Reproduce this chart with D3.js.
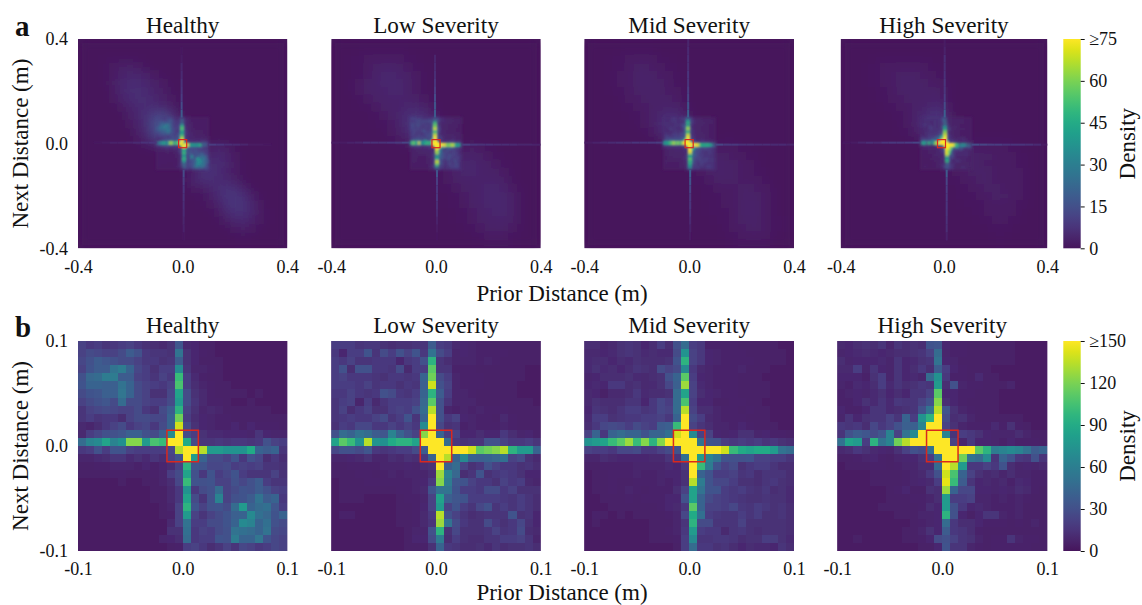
<!DOCTYPE html>
<html><head><meta charset="utf-8"><style>html,body{margin:0;background:#fff}svg{display:block}text{font-family:"Liberation Serif",serif;fill:#111}</style>
<script src="https://cdn.jsdelivr.net/npm/d3@7"></script></head><body><div id="c"></div><script>
const panelNames=["Healthy","Low Severity","Mid Severity","High Severity"];
const xTicksA=[-0.4,0,0.4],xTicksB=[-0.1,0,0.1];
const cbarTicksA=[0,15,30,45,60,75],cbarTicksB=[0,30,60,90,120,150];
const healthyFine=[
[30,25,28,22,25,28,30,25,20,18,15,20,42,15,14,8,8,6,6,6,6,5,5,6,6,6],
[30,35,32,30,30,35,45,38,25,22,22,20,60,20,14,10,8,6,6,6,6,6,6,5,5,5],
[32,38,45,42,38,35,35,30,24,25,20,22,45,20,14,8,8,8,6,6,6,6,6,6,6,6],
[30,40,45,45,60,65,50,32,28,20,28,28,75,22,12,12,10,8,6,6,6,6,5,5,6,6],
[38,52,55,65,65,45,45,30,28,22,30,25,105,28,16,10,8,8,6,6,6,6,6,6,6,6],
[40,50,50,48,48,60,50,35,30,28,25,30,110,28,18,12,10,8,8,6,6,6,6,6,6,6],
[35,40,42,48,48,62,50,35,30,20,20,32,90,35,20,15,10,8,8,8,8,6,8,6,6,6],
[30,35,38,42,35,55,35,35,30,28,28,35,85,35,22,15,10,10,8,6,6,8,6,6,6,6],
[22,30,32,35,32,30,30,35,25,20,35,45,100,30,20,12,15,12,8,8,8,8,8,8,6,6],
[22,28,22,25,25,18,30,35,35,32,32,50,120,28,18,14,12,10,10,8,8,8,8,8,8,8],
[15,12,18,25,30,35,25,30,32,25,35,50,140,35,20,14,12,10,10,14,8,14,10,10,10,8],
[15,28,32,38,38,42,48,48,38,35,48,75,150,35,28,20,16,16,14,14,14,12,22,14,12,12],
[55,70,75,90,70,78,125,125,85,110,105,150,150,95,35,22,22,25,22,25,25,22,25,38,30,28],
[25,28,38,28,40,40,30,28,28,28,28,32,135,150,150,135,85,85,80,80,80,95,50,45,50,22],
[12,12,16,18,22,22,16,20,16,22,18,30,40,150,85,50,35,35,30,40,25,38,32,18,25,18],
[8,8,10,10,12,12,12,10,14,10,14,18,30,100,42,40,32,32,35,28,30,28,30,22,22,20],
[8,8,8,8,10,10,8,8,8,10,12,28,35,90,38,25,40,28,32,40,28,22,22,22,30,20],
[6,6,6,6,6,8,6,6,8,8,12,18,32,105,40,38,40,30,30,38,32,38,45,28,22,22],
[6,6,6,6,6,6,6,6,6,8,8,15,25,80,25,35,38,55,30,35,40,38,45,38,30,28],
[6,6,6,6,6,6,6,6,6,8,8,15,25,90,35,22,38,70,30,38,40,45,60,45,50,25],
[6,6,6,6,6,6,6,6,6,6,8,12,30,100,40,30,38,40,35,55,85,50,55,58,42,28],
[6,6,6,6,6,6,6,6,6,6,8,10,30,85,30,22,30,35,40,48,50,75,58,52,40,50],
[6,6,6,6,6,5,5,5,6,6,6,15,30,60,28,28,35,35,40,50,75,70,50,58,38,35],
[6,6,5,5,5,5,5,5,6,6,6,20,20,58,25,30,28,35,38,60,58,55,50,60,35,32],
[5,5,5,5,5,5,5,5,5,6,12,14,18,55,25,28,28,40,38,65,50,50,62,40,32,30],
[5,5,5,5,5,5,5,5,5,6,6,8,10,28,30,25,18,22,30,22,32,30,25,28,32,30]];
const lowFine=[
[28,28,28,22,24,24,20,18,20,20,22,22,45,28,25,15,14,12,10,10,10,8,8,8,8,8],
[25,14,28,28,40,22,35,28,38,30,40,25,60,35,28,12,14,12,10,10,10,10,8,8,8,8],
[28,25,30,22,22,25,25,25,14,24,28,38,100,22,18,12,12,12,10,12,10,8,8,8,8,8],
[28,38,18,38,38,25,25,22,35,15,28,28,115,22,22,10,10,10,8,8,8,8,8,8,6,6],
[28,30,25,25,25,22,20,25,25,22,25,50,120,35,28,12,10,10,10,8,8,8,8,8,6,6],
[28,28,28,25,30,22,25,25,20,25,22,48,140,38,30,12,10,10,10,8,8,8,8,6,6,6],
[25,25,30,25,22,25,38,35,25,22,28,50,100,45,28,12,12,10,8,8,8,8,8,6,6,6],
[22,28,30,12,28,15,22,28,28,28,30,52,115,38,22,12,12,12,8,8,8,8,8,8,8,6],
[22,30,18,25,30,20,20,28,30,28,38,55,135,38,12,10,12,10,12,10,10,10,8,8,8,8],
[22,25,28,25,25,30,35,22,28,40,22,50,150,38,25,30,14,12,10,10,8,15,10,8,8,8],
[20,28,25,32,32,25,25,30,25,30,25,75,150,32,20,22,10,12,10,10,10,12,10,8,8,8],
[38,55,50,60,55,45,42,70,50,38,30,125,150,50,28,30,14,14,18,14,14,25,18,12,14,10],
[90,115,105,80,135,80,78,95,100,100,90,150,150,150,55,25,20,22,22,38,38,30,25,25,28,22],
[32,38,38,35,42,25,22,25,28,28,35,45,150,150,150,150,150,140,115,120,125,135,100,85,85,50],
[12,12,14,15,20,12,12,18,15,20,18,24,50,150,135,50,75,50,48,50,52,58,30,35,20,15],
[8,8,10,10,10,10,12,12,12,14,12,18,20,150,48,55,30,20,25,38,30,25,25,20,22,18],
[8,8,8,10,10,8,10,12,10,12,12,12,18,130,70,52,18,22,40,20,25,28,25,20,14,14],
[6,8,8,8,10,10,10,10,10,10,12,14,25,125,65,42,40,30,25,25,20,30,25,28,15,12],
[6,8,8,8,8,8,8,8,10,10,12,15,40,60,60,40,28,28,25,35,35,25,30,20,20,20],
[6,8,8,8,6,6,6,6,8,10,10,12,30,90,48,42,40,28,28,28,28,25,22,28,22,18],
[6,6,6,6,6,6,6,6,8,8,10,14,30,85,30,40,28,22,32,38,22,28,22,28,22,18],
[6,10,10,6,6,6,6,6,8,8,10,15,25,135,38,30,22,18,20,22,22,22,40,20,22,14],
[6,6,6,6,6,6,6,6,8,8,10,15,22,130,60,35,25,20,20,35,25,20,25,32,20,14],
[6,6,6,6,6,6,6,6,6,8,12,12,38,100,20,32,20,20,20,22,30,22,25,35,18,15],
[5,6,6,6,6,6,6,6,6,8,14,14,35,65,18,28,20,18,18,22,22,28,28,30,22,12],
[5,5,5,5,5,5,5,5,6,8,8,10,20,50,25,22,18,18,20,16,22,18,20,20,22,18]];
const midFine=[
[18,18,12,15,20,22,20,14,18,28,18,38,55,28,24,10,10,10,10,8,8,8,8,8,6,6],
[15,15,14,16,20,22,20,16,18,16,16,35,80,30,24,14,12,10,10,10,8,8,8,8,8,6],
[16,18,18,14,18,16,20,18,18,18,20,40,100,30,24,14,12,10,10,10,10,8,8,8,8,6],
[16,20,16,18,14,18,22,20,18,35,30,35,75,25,15,12,10,10,10,12,8,8,8,6,6,6],
[12,14,18,18,18,20,16,15,18,20,38,50,115,28,14,12,10,10,10,8,8,8,6,6,6,6],
[14,16,14,25,25,18,20,15,16,20,32,48,130,30,16,12,10,10,10,8,8,8,8,6,6,6],
[15,14,8,15,15,18,24,16,18,18,20,55,90,30,18,14,12,10,10,8,8,8,8,6,6,6],
[15,20,18,18,18,22,22,14,25,32,28,55,110,28,14,14,8,8,10,10,8,8,6,6,6,6],
[14,22,20,18,22,28,28,22,25,32,30,55,135,30,18,18,12,10,10,8,10,8,8,6,6,6],
[16,28,28,20,22,25,25,28,28,30,24,50,150,35,28,15,12,10,10,10,8,8,8,6,6,6],
[18,25,32,35,32,28,35,30,28,45,48,105,150,30,22,18,12,12,10,14,10,8,8,8,6,6],
[30,50,25,50,55,50,50,40,50,50,58,140,150,75,30,30,14,12,14,20,20,12,14,10,10,8],
[80,85,90,105,115,130,105,125,100,125,150,150,150,150,60,40,38,28,25,28,25,28,22,25,20,18],
[30,28,28,25,32,32,35,25,25,30,35,40,150,150,150,150,150,140,105,95,90,95,95,85,60,55],
[12,12,18,15,14,14,14,14,15,15,22,22,58,150,85,70,60,40,38,38,40,30,30,28,28,22],
[8,8,10,10,10,10,12,12,12,12,16,14,25,150,105,65,40,30,35,20,25,28,28,22,18,18],
[6,8,8,10,10,10,12,10,10,12,14,14,20,150,50,40,28,28,30,22,25,18,22,22,22,18],
[6,8,8,10,8,8,10,10,10,12,10,14,20,135,65,40,32,32,28,20,20,18,22,25,20,18],
[6,8,8,10,8,12,10,8,10,10,10,18,30,90,60,40,40,28,24,28,22,20,24,18,20,16],
[6,6,8,8,8,10,8,10,10,10,14,14,38,90,50,35,30,28,25,22,20,20,22,20,20,16],
[6,6,6,8,8,8,8,8,8,10,14,15,25,115,50,30,30,28,32,24,22,28,24,20,22,18],
[6,10,8,6,8,6,8,8,8,8,10,12,32,95,58,28,24,22,22,28,22,28,20,20,22,18],
[6,8,6,6,6,6,6,6,8,8,8,12,22,100,35,35,22,22,22,30,20,20,20,20,20,18],
[6,6,6,6,6,6,6,6,8,8,10,12,25,85,28,25,25,15,22,24,20,18,20,20,20,18],
[5,6,6,6,6,6,6,6,8,8,8,10,28,75,22,22,24,24,22,18,20,20,28,26,20,16],
[5,5,5,5,5,5,5,5,6,6,6,8,28,55,25,25,20,22,18,14,18,16,16,14,22,18]];
const highFine=[
[15,14,18,20,18,22,12,22,18,20,18,40,42,14,10,10,8,8,8,8,8,8,6,6,6,6],
[12,14,16,18,16,14,15,18,18,20,22,30,55,12,10,10,8,8,8,8,8,8,6,6,6,6],
[18,12,14,14,14,16,12,22,14,16,20,22,60,14,12,8,8,8,8,8,8,8,6,6,6,6],
[15,15,28,12,22,14,12,22,14,18,25,18,45,28,14,10,8,8,8,6,6,6,6,6,6,6],
[14,14,14,10,20,28,12,22,14,16,12,55,80,24,10,10,8,16,8,8,6,6,6,6,6,6],
[12,10,16,14,18,28,16,22,18,20,24,22,85,18,38,12,10,10,8,8,8,12,6,6,6,6],
[10,12,14,12,16,20,14,18,14,22,22,30,115,14,14,10,10,8,8,8,6,6,6,6,6,6],
[10,10,14,20,16,22,16,24,22,22,30,38,125,18,14,10,8,8,8,8,6,6,6,6,6,6],
[14,10,10,14,22,22,16,18,20,22,38,60,135,40,20,12,10,8,8,8,6,6,6,6,6,6],
[12,22,14,20,22,22,30,22,50,28,80,100,150,35,18,20,12,8,8,8,8,8,8,6,6,6],
[25,22,25,18,32,25,30,38,48,48,70,150,150,30,20,12,10,10,10,16,10,20,10,8,6,6],
[22,38,45,42,35,42,70,30,60,75,150,150,150,70,22,28,24,20,14,12,12,12,18,12,8,8],
[60,90,85,28,100,60,70,120,135,150,150,150,150,150,30,12,25,14,14,12,10,14,10,10,10,8],
[15,18,25,20,15,14,12,20,30,38,35,58,150,150,150,150,150,115,100,65,70,75,70,60,45,50],
[8,8,10,12,14,10,8,12,14,14,20,28,60,150,150,120,60,55,75,22,50,40,25,22,38,22],
[6,8,8,8,10,10,8,10,12,12,18,18,55,150,135,85,25,25,30,25,40,18,12,14,12,15],
[6,6,6,6,8,8,8,8,10,12,15,25,38,140,110,50,30,20,15,18,12,18,12,12,10,10],
[6,6,6,6,8,8,8,8,10,12,14,15,28,145,105,45,22,14,15,12,15,10,16,14,10,10],
[5,6,6,6,6,6,8,10,14,8,8,20,18,130,50,32,32,14,14,12,14,12,18,15,10,8],
[5,5,6,6,6,6,8,8,8,10,10,12,18,85,28,28,30,12,12,10,12,10,12,10,8,8],
[5,5,5,5,5,8,8,8,8,8,10,18,14,85,38,25,14,16,12,10,10,10,12,8,8,8],
[5,5,5,5,5,5,6,8,8,8,12,12,14,100,38,14,8,14,22,22,12,10,12,8,8,8],
[5,5,5,5,5,5,6,6,6,8,10,12,14,55,25,18,18,14,10,10,10,8,10,8,12,8],
[5,5,6,6,5,5,6,6,8,8,12,20,14,45,25,22,18,10,8,8,8,8,8,8,8,8],
[5,5,8,6,5,5,6,6,8,8,10,14,35,38,30,22,20,12,8,10,10,22,12,10,10,8],
[5,5,5,5,5,5,5,5,6,6,8,8,14,40,22,22,12,10,8,10,10,10,10,10,8,8]];
const healthyWide=[
[0,0,0,0,0,0,0,0,0,0,0,0,0,0,0,0,0,0,0,0,0,0,0,0,0,0],
[0,0,0,0,0,0,0,0,0,0,0,0,0,0,0,0,0,0,0,0,0,0,0,0,0,0],
[0,0,0,1,1,1,1,1,0,0,0,0,0,0,0,0,0,0,0,0,0,0,0,0,0,0],
[0,0,0,1,2,3,3,2,1,0,0,0,0,0,0,0,0,0,0,0,0,0,0,0,0,0],
[0,0,0,1,2,4,5,5,4,2,1,0,0,0,0,0,0,0,0,0,0,0,0,0,0,0],
[0,0,0,1,3,5,6,6,5,3,2,1,0,0,0,0,0,0,0,0,0,0,0,0,0,0],
[0,0,0,0,2,5,7,7,6,4,3,1,0,0,0,0,0,0,0,0,0,0,0,0,0,0],
[0,0,0,0,2,4,6,7,7,5,3,2,1,0,0,0,0,0,0,0,0,0,0,0,0,0],
[0,0,0,0,0,2,4,6,6,6,5,3,1,0,0,0,0,0,0,0,0,0,0,0,0,0],
[0,0,0,0,0,0,3,5,8,12,14,8,2,0,0,0,0,0,0,0,0,0,0,0,0,0],
[0,0,0,0,0,0,2,4,7,16,22,14,4,1,0,0,0,0,0,0,0,0,0,0,0,0],
[0,0,0,0,0,0,0,3,6,14,22,14,4,1,0,0,0,0,0,0,0,0,0,0,0,0],
[0,0,0,0,0,0,0,2,4,8,12,4,1,0,0,0,0,0,0,0,0,0,0,0,0,0],
[0,0,0,0,0,0,0,0,1,1,2,1,0,0,0,1,3,5,3,1,0,0,0,0,0,0],
[0,0,0,0,0,0,0,0,0,0,0,0,0,1,2,3,5,6,4,2,0,0,0,0,0,0],
[0,0,0,0,0,0,0,0,0,0,0,0,0,1,3,5,7,7,5,2,1,0,0,0,0,0],
[0,0,0,0,0,0,0,0,0,0,0,0,0,1,4,8,8,6,4,2,1,0,0,0,0,0],
[0,0,0,0,0,0,0,0,0,0,0,0,0,2,6,7,7,6,5,3,1,0,0,0,0,0],
[0,0,0,0,0,0,0,0,0,0,0,0,0,1,2,2,5,7,8,7,4,1,0,0,0,0],
[0,0,0,0,0,0,0,0,0,0,0,0,0,0,1,1,3,6,9,9,8,4,1,0,0,0],
[0,0,0,0,0,0,0,0,0,0,0,0,0,0,0,1,2,4,8,9,8,5,2,0,0,0],
[0,0,0,0,0,0,0,0,0,0,0,0,0,0,0,0,1,2,6,8,8,6,2,1,0,0],
[0,0,0,0,0,0,0,0,0,0,0,0,0,0,0,0,0,1,3,5,6,4,2,1,0,0],
[0,0,0,0,0,0,0,0,0,0,0,0,0,0,0,0,0,0,1,2,3,2,1,0,0,0],
[0,0,0,0,0,0,0,0,0,0,0,0,0,0,0,0,0,0,0,1,1,1,0,0,0,0],
[0,0,0,0,0,0,0,0,0,0,0,0,0,0,0,0,0,0,0,0,0,0,0,0,0,0]];
const lowWide=[
[0,0,0,0,0,0,0,0,0,0,0,0,0,0,0,0,0,0,0,0,0,0,0,0,0,0],
[0,0,0,1,1,1,1,1,1,1,0,0,0,0,0,0,0,0,0,0,0,0,0,0,0,0],
[0,0,1,1,2,2,2,2,2,1,1,0,0,0,0,0,0,0,0,0,0,0,0,0,0,0],
[0,0,1,1,2,3,4,4,3,2,1,1,0,0,0,0,0,0,0,0,0,0,0,0,0,0],
[0,0,1,1,2,4,5,5,4,3,2,1,0,0,0,0,0,0,0,0,0,0,0,0,0,0],
[0,0,1,2,3,4,5,5,5,3,2,1,0,0,0,0,0,0,0,0,0,0,0,0,0,0],
[0,0,1,2,3,4,4,5,5,3,2,1,0,0,0,0,0,0,0,0,0,0,0,0,0,0],
[0,0,0,1,2,3,4,4,4,4,3,2,1,0,0,0,0,0,0,0,0,0,0,0,0,0],
[0,0,0,1,1,2,3,4,4,5,5,3,2,0,0,0,0,0,0,0,0,0,0,0,0,0],
[0,0,0,0,1,1,2,3,5,7,8,7,4,1,0,0,0,0,0,0,0,0,0,0,0,0],
[0,0,0,0,0,1,1,2,4,8,10,9,5,1,0,0,0,0,0,0,0,0,0,0,0,0],
[0,0,0,0,0,0,1,2,3,6,9,8,5,1,0,0,0,0,0,0,0,0,0,0,0,0],
[0,0,0,0,0,0,0,1,2,3,4,3,1,0,0,0,0,0,0,0,0,0,0,0,0,0],
[0,0,0,0,0,0,0,0,0,1,1,1,0,0,0,1,2,3,2,1,1,0,0,0,0,0],
[0,0,0,0,0,0,0,0,0,0,0,0,0,1,2,3,4,4,3,2,1,1,0,0,0,0],
[0,0,0,0,0,0,0,0,0,0,0,0,0,1,2,4,5,5,4,3,2,1,1,0,0,0],
[0,0,0,0,0,0,0,0,0,0,0,0,0,1,2,4,5,5,4,3,3,2,1,0,0,0],
[0,0,0,0,0,0,0,0,0,0,0,0,0,1,2,3,3,4,4,4,4,3,1,0,0,0],
[0,0,0,0,0,0,0,0,0,0,0,0,0,1,1,2,3,3,4,5,5,4,2,1,0,0],
[0,0,0,0,0,0,0,0,0,0,0,0,0,0,1,1,2,3,4,5,5,5,3,1,0,0],
[0,0,0,0,0,0,0,0,0,0,0,0,0,0,1,1,2,3,4,5,5,5,3,1,0,0],
[0,0,0,0,0,0,0,0,0,0,0,0,0,0,0,1,1,2,3,4,5,5,3,1,0,0],
[0,0,0,0,0,0,0,0,0,0,0,0,0,0,0,1,1,2,3,3,4,4,3,1,0,0],
[0,0,0,0,0,0,0,0,0,0,0,0,0,0,0,0,1,1,2,3,3,3,2,1,0,0],
[0,0,0,0,0,0,0,0,0,0,0,0,0,0,0,0,0,1,1,2,2,2,1,1,0,0],
[0,0,0,0,0,0,0,0,0,0,0,0,0,0,0,0,0,0,0,1,1,1,1,0,0,0]];
const midWide=[
[0,0,0,0,0,0,0,0,0,0,0,0,0,0,0,0,0,0,0,0,0,0,0,0,0,0],
[0,0,0,0,1,1,1,1,1,0,0,0,0,0,0,0,0,0,0,0,0,0,0,0,0,0],
[0,0,0,1,1,2,2,2,2,1,1,0,0,0,0,0,0,0,0,0,0,0,0,0,0,0],
[0,0,0,1,1,2,3,3,2,2,1,1,0,0,0,0,0,0,0,0,0,0,0,0,0,0],
[0,0,0,1,2,2,3,4,3,2,2,1,0,0,0,0,0,0,0,0,0,0,0,0,0,0],
[0,0,0,1,2,2,3,4,3,3,2,1,0,0,0,0,0,0,0,0,0,0,0,0,0,0],
[0,0,0,1,1,2,3,3,3,3,2,2,1,0,0,0,0,0,0,0,0,0,0,0,0,0],
[0,0,0,0,1,2,2,3,3,3,3,2,1,0,0,0,0,0,0,0,0,0,0,0,0,0],
[0,0,0,0,1,1,2,2,3,3,4,3,2,0,0,0,0,0,0,0,0,0,0,0,0,0],
[0,0,0,0,0,1,1,2,3,5,7,6,3,1,0,0,0,0,0,0,0,0,0,0,0,0],
[0,0,0,0,0,0,1,2,3,6,9,8,5,1,0,0,0,0,0,0,0,0,0,0,0,0],
[0,0,0,0,0,0,0,1,2,5,8,7,4,1,0,0,0,0,0,0,0,0,0,0,0,0],
[0,0,0,0,0,0,0,0,1,2,3,2,1,0,0,0,0,1,1,0,0,0,0,0,0,0],
[0,0,0,0,0,0,0,0,0,0,1,1,0,0,0,1,2,2,2,1,1,0,0,0,0,0],
[0,0,0,0,0,0,0,0,0,0,0,0,0,1,2,3,3,3,2,2,1,1,0,0,0,0],
[0,0,0,0,0,0,0,0,0,0,0,0,0,1,2,3,4,3,3,2,2,1,0,0,0,0],
[0,0,0,0,0,0,0,0,0,0,0,0,0,1,2,3,4,3,3,2,2,1,1,0,0,0],
[0,0,0,0,0,0,0,0,0,0,0,0,0,1,1,2,3,3,3,2,2,2,1,0,0,0],
[0,0,0,0,0,0,0,0,0,0,0,0,0,0,1,1,2,2,2,3,3,2,2,1,0,0],
[0,0,0,0,0,0,0,0,0,0,0,0,0,0,1,1,1,2,2,3,3,3,2,1,0,0],
[0,0,0,0,0,0,0,0,0,0,0,0,0,0,0,1,1,2,2,3,4,3,2,1,0,0],
[0,0,0,0,0,0,0,0,0,0,0,0,0,0,0,1,1,1,2,3,4,3,2,1,0,0],
[0,0,0,0,0,0,0,0,0,0,0,0,0,0,0,0,1,1,2,3,3,3,2,1,1,0],
[0,0,0,0,0,0,0,0,0,0,0,0,0,0,0,0,0,1,2,2,3,3,2,1,1,0],
[0,0,0,0,0,0,0,0,0,0,0,0,0,0,0,0,0,1,1,2,2,2,2,1,0,0],
[0,0,0,0,0,0,0,0,0,0,0,0,0,0,0,0,0,0,1,1,1,1,1,0,0,0]];
const highWide=[
[0,0,0,0,0,0,0,0,0,0,0,0,0,0,0,0,0,0,0,0,0,0,0,0,0,0],
[0,0,0,0,0,0,0,0,0,0,0,0,0,0,0,0,0,0,0,0,0,0,0,0,0,0],
[0,0,0,0,1,1,1,1,1,1,1,1,0,0,0,0,0,0,0,0,0,0,0,0,0,0],
[0,0,0,1,1,2,2,2,2,2,2,1,1,0,0,0,0,0,0,0,0,0,0,0,0,0],
[0,0,0,1,1,2,2,3,3,3,2,2,1,0,0,0,0,0,0,0,0,0,0,0,0,0],
[0,0,0,1,1,2,2,3,3,3,3,2,2,1,0,0,0,0,0,0,0,0,0,0,0,0],
[0,0,0,0,1,1,2,3,3,3,3,3,3,1,0,0,0,0,0,0,0,0,0,0,0,0],
[0,0,0,0,1,1,2,2,3,3,3,4,4,1,0,0,0,0,0,0,0,0,0,0,0,0],
[0,0,0,0,0,1,1,2,2,3,4,5,6,2,0,0,0,0,0,0,0,0,0,0,0,0],
[0,0,0,0,0,0,1,1,2,4,6,8,10,3,0,0,0,0,0,0,0,0,0,0,0,0],
[0,0,0,0,0,0,0,1,2,4,7,9,8,2,0,0,0,0,0,0,0,0,0,0,0,0],
[0,0,0,0,0,0,0,1,1,3,5,6,5,1,0,0,0,0,0,0,0,0,0,0,0,0],
[0,0,0,0,0,0,0,0,1,1,2,2,1,0,0,0,1,1,1,1,1,1,0,0,0,0],
[0,0,0,0,0,0,0,0,0,0,0,0,0,0,1,2,3,2,2,2,2,1,1,0,0,0],
[0,0,0,0,0,0,0,0,0,0,0,0,0,1,2,3,4,3,3,2,2,2,1,1,0,0],
[0,0,0,0,0,0,0,0,0,0,0,0,0,1,2,3,3,3,2,2,2,2,1,1,0,0],
[0,0,0,0,0,0,0,0,0,0,0,0,0,1,2,2,3,3,3,2,2,2,2,1,0,0],
[0,0,0,0,0,0,0,0,0,0,0,0,0,1,1,2,2,3,3,2,2,2,2,1,0,0],
[0,0,0,0,0,0,0,0,0,0,0,0,0,0,1,1,2,2,3,3,2,2,2,1,0,0],
[0,0,0,0,0,0,0,0,0,0,0,0,0,0,1,1,1,2,2,3,3,2,2,1,0,0],
[0,0,0,0,0,0,0,0,0,0,0,0,0,0,0,1,1,1,2,2,2,2,1,1,0,0],
[0,0,0,0,0,0,0,0,0,0,0,0,0,0,0,0,1,1,2,2,2,2,1,0,0,0],
[0,0,0,0,0,0,0,0,0,0,0,0,0,0,0,0,0,1,1,2,2,1,1,0,0,0],
[0,0,0,0,0,0,0,0,0,0,0,0,0,0,0,0,0,0,1,1,1,1,0,0,0,0],
[0,0,0,0,0,0,0,0,0,0,0,0,0,0,0,0,0,0,0,1,1,0,0,0,0,0],
[0,0,0,0,0,0,0,0,0,0,0,0,0,0,0,0,0,0,0,0,0,0,0,0,0,0]];
const armUp=[[18,14,10,8,7,5,4,2,1,0],[18,16,14,10,8,6,5,4,0,0],[20,16,12,10,8,8,6,6,5,4],[20,14,10,8,8,7,6,6,3,2]];
const armDown=[[14,10,8,7,6,5,4,3,1,0],[16,10,8,8,6,5,3,2,1,0],[20,16,12,9,8,7,5,3,2,0],[18,12,10,9,8,8,7,6,3,0]];
const armLeft=[[8,7,5,4,3,3,2,1,0,0],[12,9,8,7,7,7,4,3,2,2],[10,9,8,8,6,6,5,4,3,2],[12,10,9,9,8,5,6,4,2,1]];
const armRight=[[10,8,6,5,4,2,2,1,0,0],[10,8,7,7,6,6,5,4,4,3],[12,9,9,7,7,6,6,5,5,4],[14,12,10,10,8,8,8,7,5,2]];
const fineGrids=[healthyFine,lowFine,midFine,highFine],wideGrids=[healthyWide,lowWide,midWide,highWide];
const topCentreShift=[0,0,0,0.0066];
const topBoxCentre=[0,0,0,-0.0097];
const boxHalf=0.0155;
const topX=[[78,287.3],[331.3,540.7],[584.3,794],[840.7,1047.3]];
const botX=[[78,287.3],[331.3,540.7],[584.3,794],[837.3,1047.3]];
const rowA=[39,248.3],rowB=[341,551];

const svg=d3.select("#c").append("svg").attr("width",1142).attr("height",605);
const defs=svg.append("defs");
[["soft",0.7],["arm",0.95],["mid",1.6],["wide",5.5]].forEach(([id,s])=>defs.append("filter").attr("id",id).attr("x","-10%").attr("y","-10%").attr("width","120%").attr("height","120%").append("feGaussianBlur").attr("stdDeviation",s));
const tint=t=>{t=Math.max(0,Math.min(1,t));return d3.interpolateRgb(d3.interpolateViridis(t),"#5dffb8")(0.08*(1-t));};
const colA=v=>tint(v/75),colB=v=>tint(v/150);
// my colour readings ran high in the dark range of the map; this pulls them back
const reading=d3.scaleLinear().domain([0,20,60,150]).range([0,13,52,150]).clamp(true);
const TICK=18,LABEL=23,TITLE=23.2;
let clipN=0;
function cells(g,grid,x,y,x0,x1,y0,y1,col,val,keep){
  const n=grid.length,b=d3.scaleBand().domain(d3.range(n)).range([0,1]);
  const sx=t=>x(x0+(x1-x0)*t),sy=t=>y(y0+(y1-y0)*t);
  g.selectAll(null).data(grid.flatMap((row,r)=>row.map((v,c)=>({r,c,v}))).filter(d=>!keep||keep(d.v))).join("rect")
   .attr("x",d=>sx(b(d.c))).attr("y",d=>sy(b(d.r)))
   .attr("width",d=>sx(b(d.c)+b.bandwidth())-sx(b(d.c))+.3)
   .attr("height",d=>sy(b(d.r)+b.bandwidth())-sy(b(d.r))+.3)
   .attr("shape-rendering","crispEdges")
   .attr("fill",d=>col(val(d.v)));
}
function plotFrame(range,row,dom){
  const x=d3.scaleLinear().domain([-dom,dom]).range(range),y=d3.scaleLinear().domain([-dom,dom]).range([row[1],row[0]]);
  const id="clip"+(clipN++);
  defs.append("clipPath").attr("id",id).append("rect").attr("x",range[0]).attr("y",row[0]).attr("width",range[1]-range[0]).attr("height",row[1]-row[0]);
  const g=svg.append("g").attr("clip-path",`url(#${id})`);
  g.append("rect").attr("x",range[0]).attr("y",row[0]).attr("width",range[1]-range[0]).attr("height",row[1]-row[0]).attr("fill",tint(0));
  return {x,y,g};
}
function axes(x,y,row,ticks,fmt,i,titleY){
  const ax=d3.axisBottom(x).tickValues(ticks).tickSize(0).tickPadding(11.5).tickFormat(fmt);
  const a=svg.append("g").attr("transform",`translate(0,${row[1]})`).call(ax);
  a.select(".domain").remove();a.selectAll("text").attr("font-size",TICK).attr("fill","#111");
  if(i===0){
    const ay=d3.axisLeft(y).tickValues([ticks[2],ticks[1],ticks[0]]).tickSize(0).tickPadding(10).tickFormat(fmt);
    const b=svg.append("g").attr("transform",`translate(${x.range()[0]},0)`).call(ay);
    b.select(".domain").remove();b.selectAll("text").attr("font-size",TICK).attr("fill","#111");
  }
  svg.append("text").attr("x",(x.range()[0]+x.range()[1])/2).attr("y",titleY).attr("text-anchor","middle").attr("font-size",TITLE).text(panelNames[i]);
}
const fmt=d=>d3.format(".1f")(d).replace("\u2212","-");
panelNames.forEach((n,i)=>{
  // row a
  const p=plotFrame(topX[i],rowA,0.4),s=topCentreShift[i];
  const wg=p.g.append("g").attr("filter","url(#wide)");
  cells(wg,wideGrids[i],p.x,p.y,-0.4,0.4,0.4,-0.4,colA,v=>v*0.85);
  const mg=p.g.append("g").attr("filter","url(#mid)");
  cells(mg,fineGrids[i],p.x,p.y,s-0.1,s+0.1,0.1,-0.1,colA,v=>reading(v)*0.55);
  const fg=p.g.append("g").attr("filter","url(#soft)");
  const w=0.2/26,st=0.03;
  const arm=(v,x0,x1,y0,y1)=>fg.append("rect").attr("x",p.x(x0)).attr("y",p.y(y1)).attr("width",p.x(x1)-p.x(x0)).attr("height",p.y(y0)-p.y(y1)).attr("fill",colA(v));
  armUp[i].forEach((v,j)=>{if(v)arm(v,s-w,s,0.1+j*st,0.1+(j+1)*st)});
  armDown[i].forEach((v,j)=>{if(v)arm(v,s,s+w,-0.1-(j+1)*st,-0.1-j*st)});
  armLeft[i].forEach((v,j)=>{if(v)arm(v,s-0.1-(j+1)*st,s-0.1-j*st,0,w)});
  armRight[i].forEach((v,j)=>{if(v)arm(v,s+0.1+j*st,s+0.1+(j+1)*st,-w,0)});
  const ag=p.g.append("g").attr("filter","url(#arm)");
  cells(ag,fineGrids[i],p.x,p.y,s-0.1,s+0.1,0.1,-0.1,colA,v=>v>=150?75:reading(v)*0.5,v=>v>=70);
  const c=topBoxCentre[i];
  svg.append("rect").attr("x",p.x(c-boxHalf)).attr("y",p.y(boxHalf)).attr("width",p.x(c+boxHalf)-p.x(c-boxHalf)).attr("height",p.y(-boxHalf)-p.y(boxHalf)).attr("fill","none").attr("stroke","#d9281e").attr("stroke-width",1.2);
  axes(p.x,p.y,rowA,xTicksA,fmt,i,32.5);
  // row b
  const q=plotFrame(botX[i],rowB,0.1);
  const bg=q.g.append("g").attr("filter","url(#soft)");
  cells(bg,fineGrids[i],q.x,q.y,-0.1,0.1,0.1,-0.1,colB,v=>reading(v));
  svg.append("rect").attr("x",q.x(-0.015)).attr("y",q.y(0.015)).attr("width",q.x(0.015)-q.x(-0.015)).attr("height",q.y(-0.015)-q.y(0.015)).attr("fill","none").attr("stroke","#d9281e").attr("stroke-width",1.5);
  axes(q.x,q.y,rowB,xTicksB,fmt,i,332.5);
});
// colour bars
function colorbar(row,ticks,maxV,id){
  const sc=d3.scaleLinear().domain([0,maxV]).range([row[1],row[0]]);
  const grad=defs.append("linearGradient").attr("id",id).attr("x1",0).attr("y1",1).attr("x2",0).attr("y2",0);
  d3.range(0,1.001,0.05).forEach(t=>grad.append("stop").attr("offset",t).attr("stop-color",tint(t)));
  svg.append("rect").attr("x",1063.3).attr("y",row[0]).attr("width",17.4).attr("height",row[1]-row[0]).attr("fill",`url(#${id})`);
  const a=d3.axisRight(sc).tickValues(ticks).tickSize(4).tickPadding(4.5).tickFormat(d=>d===maxV?"≥"+d:d);
  const g=svg.append("g").attr("transform","translate(1080.7,0)").call(a);
  g.select(".domain").remove();g.selectAll("text").attr("font-size",TICK).attr("fill","#111");
  g.selectAll("line").attr("stroke","#111").attr("stroke-width",1);
  const cy=(row[0]+row[1])/2;
  svg.append("text").attr("transform",`translate(1135,${cy}) rotate(-90)`).attr("text-anchor","middle").attr("font-size",LABEL).text("Density");
}
colorbar(rowA,cbarTicksA,75,"gA");colorbar(rowB,cbarTicksB,150,"gB");
// shared labels
[[300.5,rowA,"a",36],[599.5,rowB,"b",337]].forEach(([by,row,l,ly])=>{
  svg.append("text").attr("x",562).attr("y",by).attr("text-anchor","middle").attr("font-size",LABEL).text("Prior Distance (m)");
  svg.append("text").attr("transform",`translate(28,${(row[0]+row[1])/2}) rotate(-90)`).attr("text-anchor","middle").attr("font-size",LABEL).text("Next Distance (m)");
  svg.append("text").attr("x",15).attr("y",ly).attr("font-size",29).attr("font-weight","bold").attr("fill","#000").text(l);
});
</script></body></html>
